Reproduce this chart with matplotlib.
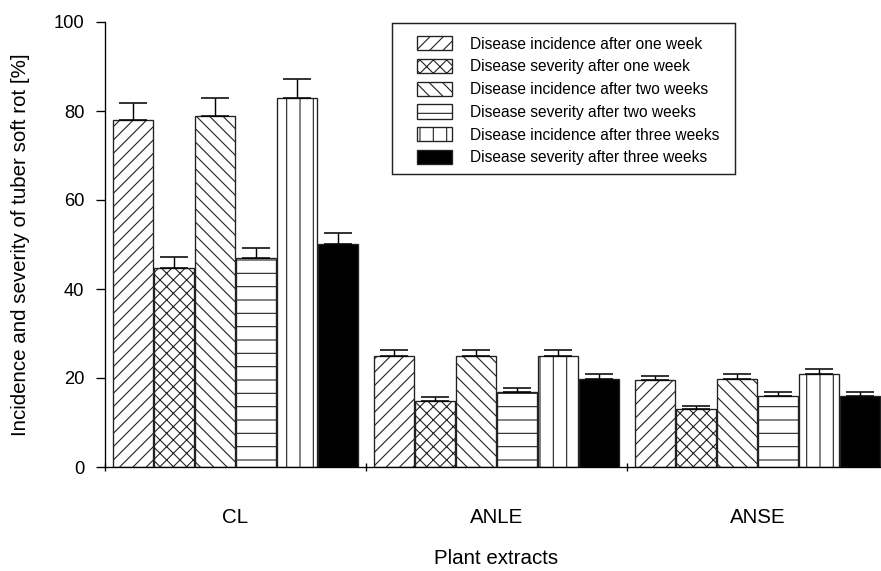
import matplotlib.pyplot as plt
from matplotlib.patches import Rectangle
import numpy as np

plt.rcParams['font.family'] = ['Liberation Sans', 'DejaVu Sans']
plt.rcParams['hatch.linewidth'] = 1.0

# data
extracts = ['CL', 'ANLE', 'ANSE']
series = ['Disease incidence after one week',
          'Disease severity after one week',
          'Disease incidence after two weeks',
          'Disease severity after two weeks',
          'Disease incidence after three weeks',
          'Disease severity after three weeks']
means = [[78.0, 24.9, 19.5],
         [44.7, 14.9, 13.0],
         [78.8, 24.9, 19.8],
         [47.0, 16.8, 16.0],
         [83.0, 24.9, 21.0],
         [50.1, 19.8, 16.0]]
errs = [[3.9, 1.3, 1.0],
        [2.6, 0.8, 0.7],
        [4.2, 1.3, 1.2],
        [2.3, 1.0, 0.8],
        [4.1, 1.3, 1.0],
        [2.4, 1.2, 0.8]]
hatches = ['//', 'xx', '\\\\', '-', '|', '']
faces = ['white', 'white', 'white', 'white', 'white', 'black']

DPI = 80
fig = plt.figure(figsize=(881 / DPI, 571 / DPI), dpi=DPI)
ax = fig.add_axes([105 / 881, 104 / 571, 783 / 881, 445 / 571])

x = np.arange(len(extracts))
pitch = 0.157
width = 0.15
for i in range(6):
    pos = x + (i - 2.5) * pitch
    ax.bar(pos, means[i], width, facecolor=faces[i], edgecolor='#222222',
           linewidth=1.2, hatch=hatches[i], label=series[i], zorder=2)
    ax.errorbar(pos, means[i], yerr=[np.zeros(3), errs[i]], fmt='none',
                ecolor='black', elinewidth=1.3, capsize=13, capthick=1.4,
                zorder=3)

ax.set_xlim(-0.5, 2.5)
ax.set_ylim(0, 100)
ax.set_yticks(range(0, 101, 20))
ax.set_xticks([-0.5, 0.5, 1.5, 2.5])
ax.set_xticklabels([])
ax.set_xticks(x, minor=True)
ax.set_xticklabels(extracts, minor=True)
ax.tick_params(axis='x', which='major', direction='inout', length=8, width=1.2)
ax.tick_params(axis='x', which='minor', length=0, pad=37, labelsize=18.5)
ax.tick_params(axis='y', direction='out', length=8, width=1.2, pad=10.5,
               labelsize=16.5)
for s in ['top', 'right']:
    ax.spines[s].set_visible(False)
for s in ['left', 'bottom']:
    ax.spines[s].set_linewidth(1.2)

ax.set_xlabel('Plant extracts', fontsize=18.5, labelpad=20)
ax.set_ylabel('Incidence and severity of tuber soft rot [%]', fontsize=18.5,
              labelpad=21)

# legend box
ax.add_patch(Rectangle((0.3665, 0.6584), 0.438, 0.3393, transform=ax.transAxes,
                       facecolor='white', edgecolor='#222222', linewidth=1.3,
                       zorder=4))
leg = ax.legend(loc='upper left', bbox_to_anchor=(0.3985, 0.968),
                fontsize=14, frameon=False,
                handlelength=2.25, handleheight=1.03, labelspacing=0.47,
                borderpad=0, borderaxespad=0, handletextpad=1.15)
leg.set_zorder(5)

fig.savefig('out.png', dpi=DPI)
